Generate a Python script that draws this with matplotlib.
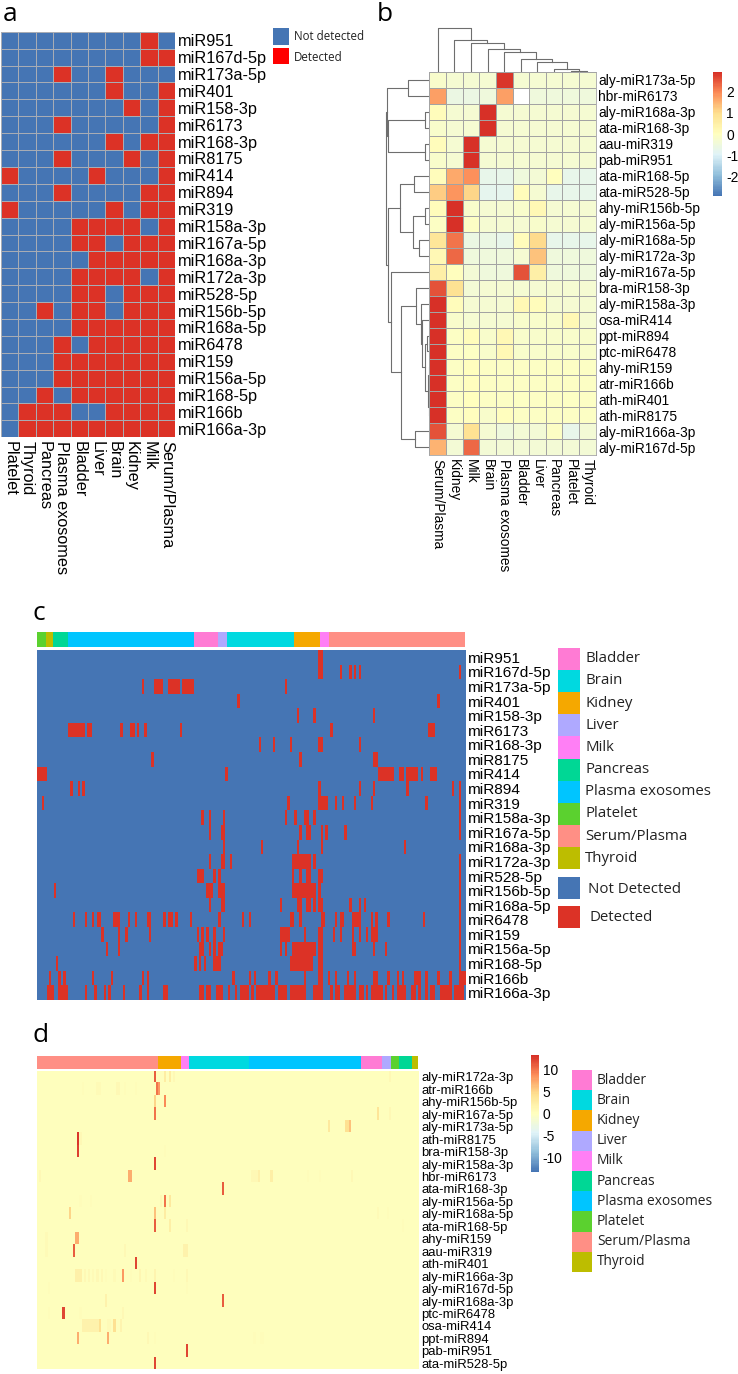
import numpy as np
import matplotlib
matplotlib.use('Agg')
import matplotlib.pyplot as plt
from matplotlib.colors import ListedColormap, LinearSegmentedColormap
from matplotlib.patches import Rectangle

W, H = 738, 1374
plt.rcParams['font.family'] = ['Liberation Sans', 'DejaVu Sans']

BLUE = '#4575B4'
RED = '#DC3226'

# ---- panel a: detected per tissue
tissues_a = ['Platelet', 'Thyroid', 'Pancreas', 'Plasma exosomes', 'Bladder',
             'Liver', 'Brain', 'Kidney', 'Milk', 'Serum/Plasma']
mirnas = ['miR951', 'miR167d-5p', 'miR173a-5p', 'miR401', 'miR158-3p', 'miR6173',
          'miR168-3p', 'miR8175', 'miR414', 'miR894', 'miR319', 'miR158a-3p',
          'miR167a-5p', 'miR168a-3p', 'miR172a-3p', 'miR528-5p', 'miR156b-5p',
          'miR168a-5p', 'miR6478', 'miR159', 'miR156a-5p', 'miR168-5p', 'miR166b',
          'miR166a-3p']
detected_a = [[8], [8, 9], [3, 6], [6, 9], [7, 9], [3, 9], [6, 8, 9], [3, 7, 9],
              [0, 5, 9], [3, 8, 9], [0, 6, 8, 9], [4, 5, 6, 7, 9], [4, 5, 7, 8, 9],
              [5, 6, 7, 8, 9], [4, 5, 6, 7, 9], [4, 5, 7, 8, 9], [2, 4, 5, 7, 8, 9],
              [4, 5, 6, 7, 8, 9], [3, 5, 6, 7, 8, 9], [3, 4, 5, 6, 7, 8, 9],
              [3, 4, 5, 6, 7, 8, 9], [2, 4, 5, 6, 7, 8, 9], [1, 2, 3, 6, 7, 8, 9],
              [1, 2, 3, 4, 5, 6, 7, 8, 9]]

# ---- panel b: scaled expression
tissues_b = ['Serum/Plasma', 'Kidney', 'Milk', 'Brain', 'Plasma exosomes', 'Bladder',
             'Liver', 'Pancreas', 'Platelet', 'Thyroid']
rows_b = ['aly-miR173a-5p', 'hbr-miR6173', 'aly-miR168a-3p', 'ata-miR168-3p', 'aau-miR319',
          'pab-miR951', 'ata-miR168-5p', 'ata-miR528-5p', 'ahy-miR156b-5p', 'aly-miR156a-5p',
          'aly-miR168a-5p', 'aly-miR172a-3p', 'aly-miR167a-5p', 'bra-miR158-3p',
          'aly-miR158a-3p', 'osa-miR414', 'ppt-miR894', 'ptc-miR6478', 'ahy-miR159',
          'atr-miR166b', 'ath-miR401', 'ath-miR8175', 'aly-miR166a-3p', 'aly-miR167d-5p']
values_b = [
    [-.2, -.3, -.3, -.3, 2.8, -.3, -.3, -.3, -.3, -.3],
    [1.7, -.6, -.6, -.5, 1.7, np.nan, -.5, -.5, -.5, -.5],
    [.1, -.3, -.3, 2.9, -.3, -.3, -.3, -.3, -.3, -.3],
    [-.2, -.3, -.3, 2.9, -.3, -.3, -.3, -.3, -.3, -.3],
    [.1, -.3, 2.9, -.3, -.3, -.3, -.3, -.3, -.3, -.3],
    [-.2, -.3, 2.9, -.3, -.3, -.3, -.3, -.3, -.3, -.3],
    [.1, 1.6, 1.9, -.7, -.7, -.5, -.4, 0, -.7, -.7],
    [1.2, 1.8, 1.1, -.8, -.8, .1, -.3, -.7, -.7, -.7],
    [.1, 2.9, -.2, -.3, -.3, -.2, .2, -.3, -.3, -.3],
    [-.1, 2.9, -.1, -.3, -.3, -.3, -.2, -.3, -.3, -.3],
    [.8, 2.2, -.6, -.6, -.7, .1, 1.0, -.7, -.7, -.7],
    [.2, 2.3, -.5, -.5, -.5, -.3, 1.3, -.5, -.5, -.5],
    [.5, 0, -.4, -.5, -.5, 2.5, .5, -.5, -.5, -.5],
    [2.5, .9, -.4, -.3, -.3, -.3, -.3, -.3, -.3, -.3],
    [2.9, .1, -.3, -.3, -.3, .2, .1, -.3, -.3, -.3],
    [2.9, -.2, -.3, -.3, -.3, -.2, -.2, -.2, .2, -.3],
    [2.9, -.1, .1, -.2, .2, -.2, -.2, -.2, -.2, -.2],
    [2.9, -.1, -.1, -.2, .2, -.2, -.2, -.2, -.2, -.2],
    [2.9, -.1, 0, -.1, -.1, -.1, -.1, -.1, -.1, -.1],
    [2.9, -.1, 0, -.1, -.1, -.1, -.1, -.1, -.1, -.1],
    [2.9, -.1, 0, -.1, -.1, -.1, -.1, -.1, -.1, -.1],
    [2.9, -.1, 0, -.2, 0, -.1, -.1, -.1, -.1, -.1],
    [2.5, -.3, .9, -.3, -.5, -.4, -.4, -.1, -.7, -.4],
    [1.5, -.4, 2.3, -.4, -.4, -.4, -.4, -.4, -.4, -.4],
]
# merge trees: (height, left, right), leaves are row / column numbers
tree_top = (44, 0, (32, 1, (29, 2, (23, 3, (20, 4, (13, 5, (10, 6, (2.7, 7, (1, 8, 9)))))))))
tree_left = (43.5,
             (42, (21, 0, 1), (41, (4.5, 2, 3), (4.5, 4, 5))),
             (41.5,
              (29, (15, 6, 7), (16, (4.5, 8, 9), (10.5, 10, 11))),
              (38, 12,
               (28.5,
                (13, 13, (8, 14, (7.5, 15, (4, (2, 16, 17),
                                            (1.6, (.8, 18, 19), (.8, 20, 21)))))),
                (14.5, 22, 23)))))

# ---- panel c: sample groups and detected sample runs
legend_groups = ['Bladder', 'Brain', 'Kidney', 'Liver', 'Milk', 'Pancreas',
                 'Plasma exosomes', 'Platelet', 'Serum/Plasma', 'Thyroid']
group_colors = ['#FF7BD4', '#00D9E0', '#F5A800', '#AFA9FF', '#FF7FF5', '#00D795',
                '#00C5FF', '#5BD12F', '#FF8F85', '#BDBD00']
groups_c = ['Platelet', 'Thyroid', 'Pancreas', 'Plasma exosomes', 'Bladder', 'Liver',
            'Brain', 'Kidney', 'Milk', 'Serum/Plasma']
sizes_c = [4, 3, 6, 53, 10, 4, 28, 11, 4, 57]
n_samples = sum(sizes_c)
runs_c = [
    [(118, 119)],
    [(118, 119), 127, 131, 133, 135, 177],
    [44, (49, 52), (55, 59), (61, 65), 104],
    [84, 168],
    [109, 116, 141],
    [(13, 19), (21, 22), 35, (39, 40), 42, 45, 60, 123, (164, 166)],
    [93, 99, 106, (118, 119), 135],
    [48, 110, (141, 142)],
    [(0, 3), 79, (143, 149), 152, 153, (155, 159), 161, (165, 167)],
    [14, 17, 19, 118, 135, 141, 155, 174, 177],
    [2, 105, (118, 121), 125, 128, 133, 140, 163, 177],
    [69, 72, 78, 104, 108, (112, 113), 116, 177],
    [72, (77, 78), 110, (113, 114), 119, 121, 129, 177],
    [78, 94, 109, 119, 154],
    [72, (77, 78), 81, (107, 114), 116, 177],
    [(67, 69), 74, 76, 107, 110, (113, 114), (118, 119), 177],
    [7, (71, 73), (76, 78), (107, 116), 118, 177],
    [72, (77, 78), 102, (109, 110), (113, 114), 116, (118, 119), 131, 135, 137, 177],
    [15, 20, 23, (25, 26), (32, 34), 38, 41, (46, 47), 53, (55, 56), 58, 64, 76, 86, 89,
     (106, 107), 110, (119, 120), 125, (127, 128), (132, 135), 140, 142, 147, 162, 177],
    [27, 34, 37, 47, 67, 69, 71, 74, 78, (102, 105), 112, (118, 119), 124, 127, 132, 135,
     138, (140, 142), 177],
    [29, 34, (68, 69), 72, 74, (76, 77), 102, 104, (107, 116), (118, 119), 132, 133, 141,
     146, 177],
    [8, 66, 68, 70, (74, 76), (106, 115), (118, 119), 177],
    [5, 9, 11, 23, 31, 44, 46, 82, 89, 91, 97, 100, 112, (118, 119), 122, 125, 130, 133,
     (141, 142), 147, 151, 153, (158, 160), 163, 168, 173, (177, 179)],
    [(4, 6), (9, 12), 20, 24, 28, 30, 36, 43, 46, (53, 54), (68, 69), (71, 72), (75, 77),
     80, 83, (85, 88), 90, (92, 99), 101, (102, 103), 104, (106, 112), (116, 119), 123,
     (125, 126), (129, 133), (135, 136), 138, (140, 144), 146, 149, (151, 154), (157, 158),
     160, 163, (165, 166), (169, 173), (175, 178)],
]

# ---- panel d: expression per sample, (first, last, value) runs on a zero background
groups_d = ['Serum/Plasma', 'Kidney', 'Milk', 'Brain', 'Plasma exosomes', 'Bladder',
            'Liver', 'Platelet', 'Pancreas', 'Thyroid']
sizes_d = [57, 11, 4, 28, 53, 10, 4, 4, 6, 3]
rows_d = ['aly-miR172a-3p', 'atr-miR166b', 'ahy-miR156b-5p', 'aly-miR167a-5p',
          'aly-miR173a-5p', 'ath-miR8175', 'bra-miR158-3p', 'aly-miR158a-3p', 'hbr-miR6173',
          'ata-miR168-3p', 'aly-miR156a-5p', 'aly-miR168a-5p', 'ata-miR168-5p', 'ahy-miR159',
          'aau-miR319', 'ath-miR401', 'aly-miR166a-3p', 'aly-miR167d-5p', 'aly-miR168a-3p',
          'ptc-miR6478', 'osa-miR414', 'ppt-miR894', 'pab-miR951', 'ata-miR528-5p']
runs_d = [
    [(55, 55, 11), (60, 60, 2.5), (62, 62, 2.5), (64, 64, .8), (166, 166, 1)],
    [(56, 56, 10), (57, 57, 8), (21, 21, .5), (28, 29, .7), (37, 38, .8), (41, 41, .4),
     (46, 46, .4)],
    [(55, 55, 5), (60, 60, 9)],
    [(55, 55, 10), (160, 160, 3.5), (166, 166, .8)],
    [(137, 137, 3), (145, 146, 4), (147, 147, 6)],
    [(19, 19, 13), (20, 20, 1)],
    [(19, 19, 12.5), (60, 60, .5)],
    [(55, 55, 12)],
    [(1, 1, 1), (43, 44, 7), (101, 103, 1), (104, 104, 2), (110, 110, 2.2), (127, 127, .5),
     (133, 133, .4), (148, 148, .8)],
    [(87, 87, 11)],
    [(20, 20, .3), (25, 25, .3), (58, 58, 1), (60, 60, 10), (62, 62, 3)],
    [(15, 15, 5), (55, 55, 6), (60, 60, 2.5), (160, 160, .6), (165, 165, .5)],
    [(55, 55, 11), (62, 62, 2.2), (70, 70, 1), (172, 172, .5)],
    [(4, 4, .6), (18, 19, 7)],
    [(4, 4, .6), (17, 17, 11), (41, 41, .8), (69, 70, 1.8)],
    [(46, 46, 12)],
    [(70, 170, .25), (18, 20, 2), (22, 22, 1), (24, 24, 1), (26, 26, .7), (28, 28, .8),
     (30, 30, .8), (32, 32, .4), (36, 36, .6), (40, 40, 8), (44, 44, .3), (48, 48, 1.2),
     (51, 51, .7), (55, 55, 1.5), (64, 64, .4), (70, 70, 1)],
    [(55, 55, 12), (5, 5, .4), (70, 70, .3)],
    [(32, 32, 1.8), (87, 87, 11)],
    [(12, 12, 12), (20, 20, .4), (40, 40, .8), (5, 5, .3)],
    [(0, 165, .2), (21, 28, 1.8), (29, 29, 4), (33, 34, .7), (36, 36, 4), (39, 39, 1.5)],
    [(19, 19, 7), (33, 33, 7), (52, 52, .8), (55, 55, .3), (102, 102, .4), (105, 106, .4)],
    [(70, 70, 12)],
    [(55, 55, 12)],
]


def px_axes(x0, y0, x1, y1):
    # axes placed by pixel box, y counted from the top of the picture
    return fig.add_axes([x0 / W, 1 - y1 / H, (x1 - x0) / W, (y1 - y0) / H])


def px_text(x, y, s, **kw):
    kw.setdefault('va', 'center')
    fig.text(x / W, 1 - y / H, s, **kw)


def row_labels(ax, labels, size, pad=2):
    ax.set_yticks(np.arange(len(labels)) + .5)
    ax.set_yticklabels(labels, fontsize=size)
    ax.yaxis.tick_right()
    ax.tick_params(axis='y', length=0, pad=pad)


def draw_tree(ax, node, vertical):
    # returns (leaf position, height) of the node, draws the U of each merge
    if not isinstance(node, tuple):
        return node + .5, 0
    h, left, right = node
    p1, h1 = draw_tree(ax, left, vertical)
    p2, h2 = draw_tree(ax, right, vertical)
    pos = [p1, p1, p2, p2]
    hts = [h1, h, h, h2]
    if vertical:
        ax.plot(pos, hts, color='#6E6E6E', lw=.8, solid_capstyle='projecting')
    else:
        ax.plot(hts, pos, color='#6E6E6E', lw=.8, solid_capstyle='projecting')
    return (p1 + p2) / 2, h


def annotation(ax, groups, sizes):
    colors = dict(zip(legend_groups, group_colors))
    start = 0
    for g, s in zip(groups, sizes):
        ax.barh(0, s, left=start, height=1, color=colors[g], lw=0)
        start += s
    ax.set_xlim(0, sum(sizes))
    ax.set_ylim(-.5, .5)
    ax.axis('off')


def swatches(x0, x1, y0, step, size):
    ax = px_axes(x0, y0, x1, y0 + step * len(legend_groups))
    for i, c in enumerate(group_colors):
        ax.barh(i + .5, 1, height=1, color=c, lw=0)
    ax.set_xlim(0, 1)
    ax.set_ylim(len(legend_groups), 0)
    ax.axis('off')
    for i, g in enumerate(legend_groups):
        px_text(x1 + 5, y0 + step * (i + .5), g, fontsize=size, family='Open Sans',
                color='#222222')


fig = plt.figure(figsize=(W / 100, H / 100), dpi=100)
for letter, x, y in [('a', 3, 21), ('b', 377, 21), ('c', 33, 620), ('d', 33, 1042)]:
    px_text(x, y, letter, fontsize=19, family='Open Sans', color='black', va='baseline')

# panel a
mat_a = np.zeros((len(mirnas), len(tissues_a)))
for i, cols in enumerate(detected_a):
    mat_a[i, cols] = 1
ax = px_axes(1, 31.7, 175, 437.3)
binary = ListedColormap([BLUE, RED])
ax.pcolormesh(mat_a, cmap=binary, vmin=0, vmax=1, edgecolors='#A8ACB4', linewidth=.6)
ax.set_ylim(len(mirnas), 0)
ax.set_xlim(0, len(tissues_a))
row_labels(ax, mirnas, 11.7)
ax.set_xticks(np.arange(len(tissues_a)) + .5)
ax.set_xticklabels(tissues_a, rotation=270, fontsize=11.7, ha='center', va='top')
ax.tick_params(axis='x', length=0, pad=3)
for s in ax.spines.values():
    s.set_visible(False)

ax = px_axes(272.7, 28, 289.3, 64.3)
ax.add_patch(Rectangle((0, 0), 1, .47, color=BLUE, lw=0))
ax.add_patch(Rectangle((0, .55), 1, .45, color='#FF0000', lw=0))
ax.set_ylim(1, 0)
ax.axis('off')
px_text(294, 36.5, 'Not detected', fontsize=8.3, family='Open Sans', color='#222222')
px_text(294, 57.3, 'Detected', fontsize=8.3, family='Open Sans', color='#222222')

# panel b, pheatmap's default seven colour ramp
ramp = LinearSegmentedColormap.from_list(
    'pheatmap', ['#4575B4', '#91BFDB', '#E0F3F8', '#FFFFBF', '#FEE090', '#FC8D59', '#D73027'],
    N=100)
ramp_white = ramp.copy()
ramp_white.set_bad('white')
ax_b = px_axes(429.3, 72, 595.7, 455.3)
mesh = ax_b.pcolormesh(np.ma.masked_invalid(np.array(values_b)), cmap=ramp_white,
                       vmin=-2.9, vmax=2.9, edgecolors='#A3A3A3', linewidth=.6)
ax_b.set_ylim(len(rows_b), 0)
row_labels(ax_b, rows_b, 9.9)
ax_b.set_xticks(np.arange(len(tissues_b)) + .5)
ax_b.set_xticklabels(tissues_b, rotation=270, fontsize=9.9, ha='center', va='top')
ax_b.tick_params(axis='x', length=0, pad=3)
for s in ax_b.spines.values():
    s.set_color('#A3A3A3')
    s.set_linewidth(.6)

ax = px_axes(429.3, 27, 595.7, 72)
draw_tree(ax, tree_top, True)
ax.set_xlim(0, 10)
ax.set_ylim(0, 45)
ax.axis('off')

ax = px_axes(385, 72, 429.3, 455.3)
draw_tree(ax, tree_left, False)
ax.set_xlim(44.3, 0)
ax.set_ylim(24, 0)
ax.axis('off')

cax = px_axes(713, 72, 722, 196)
cb = fig.colorbar(mesh, cax=cax, ticks=[-2, -1, 0, 1, 2])
cb.outline.set_visible(False)
cax.set_yticklabels(['-2', '-1', '0', '1', '2'], fontsize=9.9, ha='left')
cax.tick_params(length=0, pad=3)

# panel c
mat_c = np.zeros((len(mirnas), n_samples))
for i, runs in enumerate(runs_c):
    for r in runs:
        first, last = r if isinstance(r, tuple) else (r, r)
        mat_c[i, first:last + 1] = 1
annotation(px_axes(36.7, 632, 465, 647), groups_c, sizes_c)
ax = px_axes(36.7, 650, 465, 1000)
ax.imshow(mat_c, cmap=binary, vmin=0, vmax=1, aspect='auto', interpolation='nearest',
          extent=(0, n_samples, len(mirnas), 0))
row_labels(ax, mirnas, 11.1)
ax.set_xticks([])
for s in ax.spines.values():
    s.set_visible(False)
swatches(558.3, 580.3, 647.7, 22.16, 10.8)
ax = px_axes(558.3, 877.3, 580.3, 927.7)
ax.add_patch(Rectangle((0, 0), 1, .437, color=BLUE, lw=0))
ax.add_patch(Rectangle((0, .567), 1, .433, color=RED, lw=0))
ax.set_ylim(1, 0)
ax.axis('off')
px_text(588, 889.5, 'Not Detected', fontsize=10.8, family='Open Sans', color='#222222')
px_text(589.3, 917.5, 'Detected', fontsize=10.8, family='Open Sans', color='#222222')

# panel d
mat_d = np.zeros((len(rows_d), sum(sizes_d)))
for i, runs in enumerate(runs_d):
    for first, last, v in runs:
        mat_d[i, first:last + 1] = v
annotation(px_axes(36.7, 1055.7, 418.3, 1069), groups_d, sizes_d)
ax = px_axes(36.7, 1070.7, 418.3, 1369.5)
im = ax.imshow(mat_d, cmap=ramp, vmin=-13.3, vmax=13.3, aspect='auto',
               interpolation='nearest', extent=(0, sum(sizes_d), len(rows_d), 0))
row_labels(ax, rows_d, 9.36)
ax.set_xticks([])
for s in ax.spines.values():
    s.set_visible(False)
cax = px_axes(531, 1055, 538.7, 1172)
cb = fig.colorbar(im, cax=cax, ticks=[-10, -5, 0, 5, 10])
cb.outline.set_visible(False)
cax.set_yticklabels(['-10', '-5', '0', '5', '10'], fontsize=9.9, ha='left')
cax.tick_params(length=0, pad=3)
swatches(571.7, 592, 1070, 20.2, 9.9)

fig.savefig('out.png', dpi=100)
